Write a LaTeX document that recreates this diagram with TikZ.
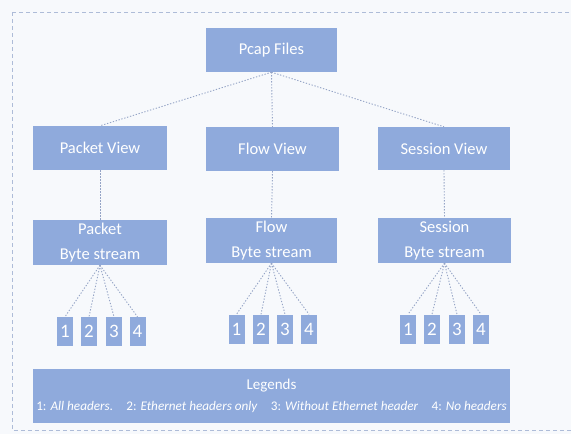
\documentclass[tikz,border=0pt]{standalone}
\usepackage{fontspec}
\setmainfont{Carlito}
\definecolor{boxblue}{HTML}{8FAADC}
\definecolor{paper}{HTML}{F7F9FC}
\definecolor{frameline}{HTML}{AEBCD8}
\definecolor{linkline}{HTML}{95A4C6}
\tikzset{
  blk/.style={fill=boxblue, draw=none, text=white, inner sep=0pt, align=center, font=\fontsize{16.5}{25}\selectfont},
  numbox/.style={fill=boxblue, draw=none, text=white, inner sep=0pt, minimum width=16pt, minimum height=29pt, font=\fontsize{19}{20}\selectfont},
  link/.style={draw=linkline, line width=0.9pt, dash pattern=on 1.3pt off 1.7pt},
}
\begin{document}
\begin{tikzpicture}[x=1pt,y=-1pt]
\useasboundingbox (0,0) rectangle (571,434);
\fill[paper] (0,0) rectangle (571,434);
\draw[frameline, line width=1pt, dash pattern=on 4pt off 3pt] (12,12) rectangle (590,430);

% top level
\node[blk, minimum width=131pt, minimum height=44pt] (pcap) at (271.5,50) {Pcap Files};

% views
\node[blk, minimum width=134pt, minimum height=44pt] (pv) at (100,148) {Packet View};
\node[blk, minimum width=133pt, minimum height=44pt] (fv) at (272.5,149) {Flow View};
\node[blk, minimum width=132pt, minimum height=43pt] (sv) at (444,148.5) {Session View};

% byte streams
\node[blk, minimum width=134pt, minimum height=45pt] (pb) at (100,242.5) {Packet\\Byte stream};
\node[blk, minimum width=131pt, minimum height=45pt] (fb) at (271.5,240.5) {Flow\\Byte stream};
\node[blk, minimum width=133pt, minimum height=45pt] (sb) at (444.5,240.5) {Session\\Byte stream};

% header variants
\foreach \i/\x in {1/65,2/89,3/114,4/137.5}
  \node[numbox] (p\i) at (\x,331.5) {\i};
\foreach \i/\x in {1/236.5,2/261,3/285,4/309}
  \node[numbox] (f\i) at (\x,329) {\i};
\foreach \i/\x in {1/408,2/432,3/457,4/481}
  \node[numbox] (s\i) at (\x,329) {\i};

% legend
\node[blk, font=\fontsize{15}{21}\selectfont, minimum width=477pt, minimum height=54pt] (leg) at (271.5,396)
  {Legends\\
   \fontsize{13.2}{15}\selectfont 1: \textit{All headers.}\quad 2: \textit{Ethernet headers only}\quad 3: \textit{Without Ethernet header}\quad 4: \textit{No headers}};

% connectors
\foreach \t in {pv,fv,sv}
  \draw[link] (pcap.south) -- (\t.north);
\draw[link] (pv.south) -- (pb.north);
\draw[link] (fv.south) -- (fb.north);
\draw[link] (sv.south) -- (sb.north);
\foreach \i in {1,2,3,4} {
  \draw[link] (pb.south) -- (p\i.north);
  \draw[link] (fb.south) -- (f\i.north);
  \draw[link] (sb.south) -- (s\i.north);
}
\end{tikzpicture}
\end{document}
